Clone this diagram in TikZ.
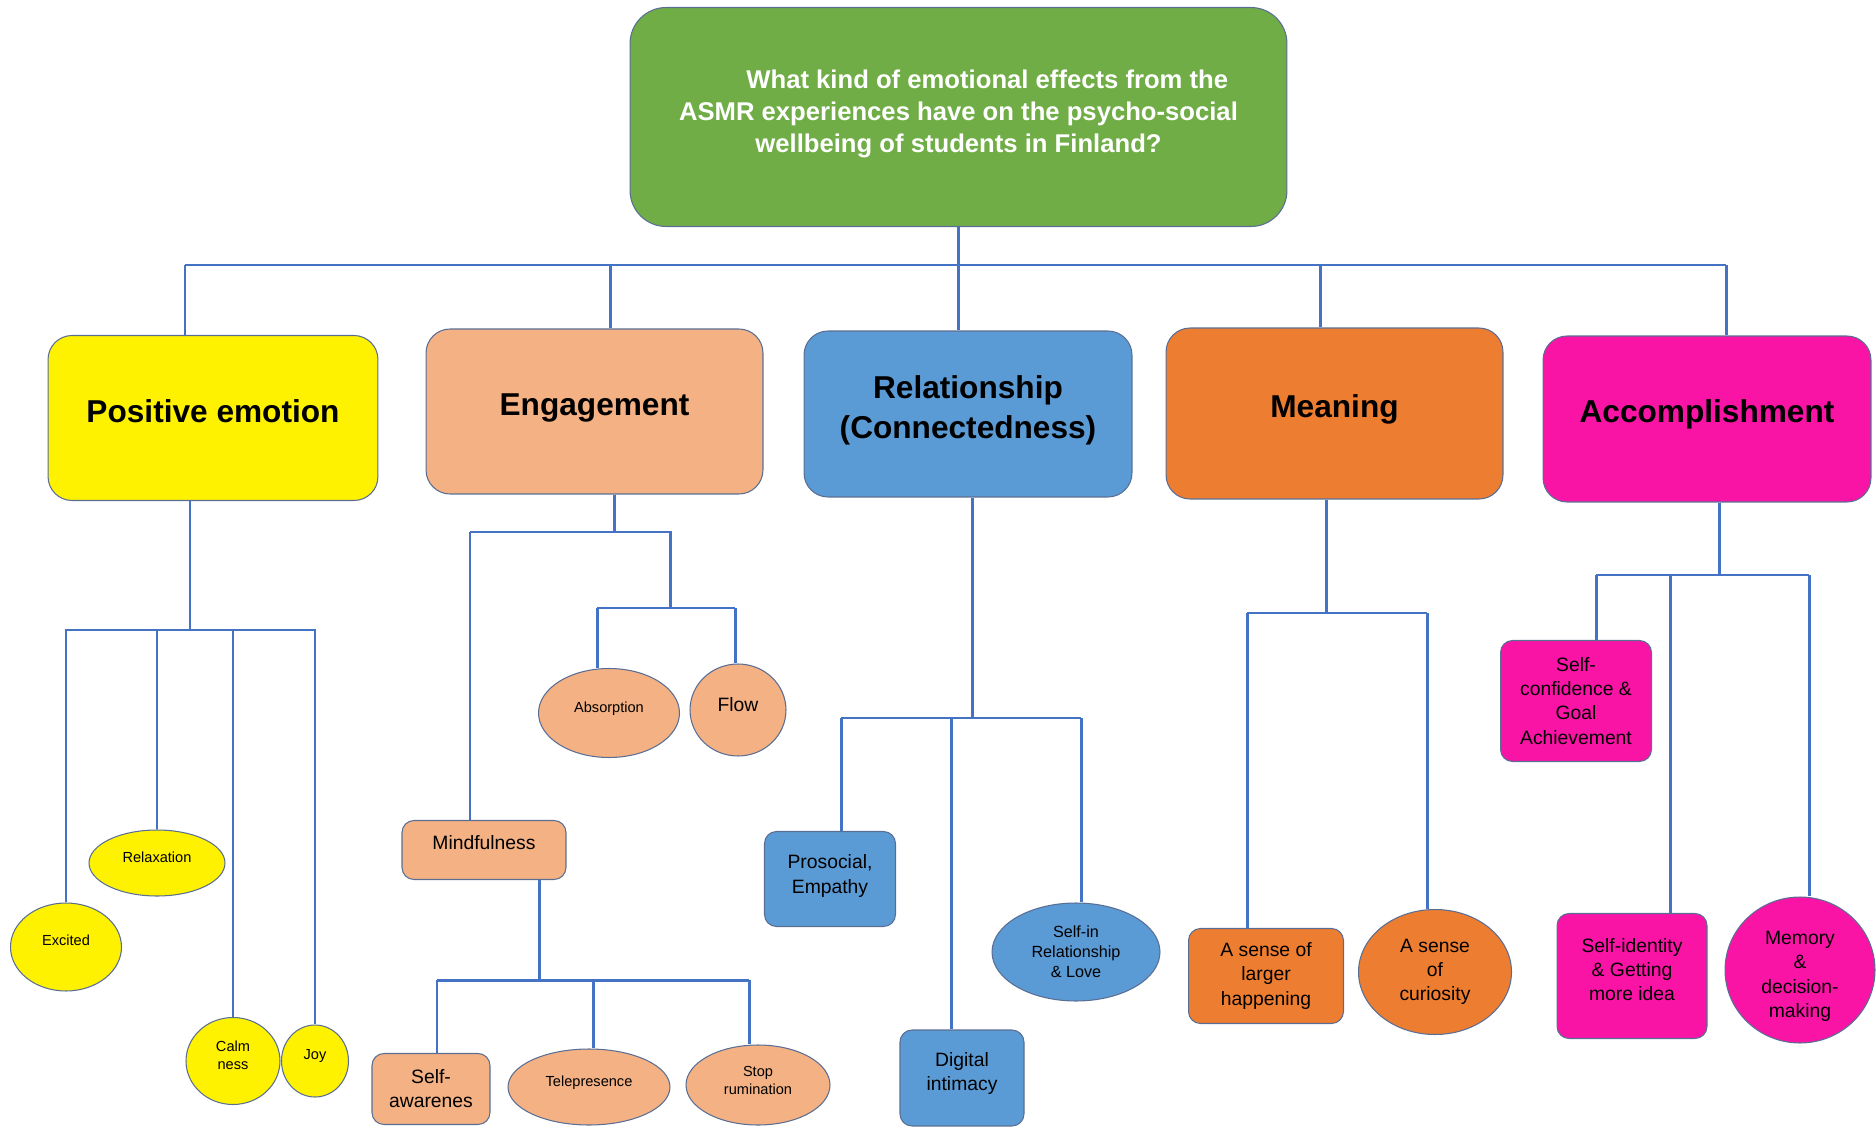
\documentclass[tikz,border=0pt]{standalone}
\usepackage{fontspec}
\setmainfont{Liberation Sans}
\usetikzlibrary{shapes.geometric}
\definecolor{leafgreen}{HTML}{70AD47}
\definecolor{peach}{HTML}{F4B183}
\definecolor{skyblue}{HTML}{5B9BD5}
\definecolor{deeporange}{HTML}{ED7D31}
\definecolor{hotpink}{HTML}{FA14A6}
\definecolor{linkblue}{HTML}{4472C4}
\definecolor{rimgray}{HTML}{5A6E94}
\newcommand\lowpad[1]{\rule[-#1]{0pt}{#1}}
\newcommand\highpad[1]{\rule{0pt}{#1}}
\begin{document}
\begin{tikzpicture}[x=0.02cm,y=-0.02cm,
    box/.style={draw=rimgray,line width=0.6pt,rounded corners=0.24cm,align=center,
      font=\fontsize{11}{13.7}\selectfont},
    oval/.style={draw=rimgray,line width=0.6pt,ellipse,inner sep=0pt,align=center,
      font=\fontsize{8.3}{10.4}\selectfont},
    head/.style={draw=rimgray,line width=0.6pt,rounded corners=0.48cm,align=center,
      minimum width=6.6cm,minimum height=3.3cm,
      font=\fontsize{18}{23}\selectfont\bfseries},
    link/.style={draw=linkblue,line width=1.7pt}]
  \useasboundingbox (0,0) rectangle (1876,1128);
  \node[draw=rimgray,line width=0.6pt,fill=leafgreen,rounded corners=0.72cm,
    minimum width=13.14cm,minimum height=4.38cm,align=center,text=white,
    font=\fontsize{14.6}{18.2}\selectfont\bfseries] (root) at (958.5,117)
    {\hspace*{1.15cm}What kind of emotional effects from the\\
     ASMR experiences have on the psycho-social\\
     wellbeing of students in Finland?\lowpad{0.25cm}};
  \node[head,fill=yellow] (pe) at (213,418) {Positive emotion\lowpad{0.28cm}};
  \node[head,fill=peach,minimum width=6.74cm] (eng) at (594.5,411.5) {Engagement\lowpad{0.28cm}};
  \node[head,fill=skyblue,minimum width=6.56cm,minimum height=3.32cm] (rel) at (968,414)
    {Relationship\\(Connectedness)\lowpad{0.28cm}};
  \node[head,fill=deeporange,minimum width=6.74cm,minimum height=3.42cm] (mea) at (1334.5,413.5)
    {Meaning\lowpad{0.28cm}};
  \node[head,fill=hotpink,minimum width=6.56cm,minimum height=3.32cm] (acc) at (1707,419)
    {Accomplishment\lowpad{0.33cm}};
  \node[oval,fill=yellow,minimum width=2.22cm,minimum height=1.76cm] (excited) at (66,947)
    {Excited\lowpad{0.29cm}};
  \node[oval,fill=yellow,minimum width=2.72cm,minimum height=1.32cm] (relax) at (157,863)
    {Relaxation\lowpad{0.24cm}};
  \node[oval,fill=yellow,minimum width=1.88cm,minimum height=1.74cm] (calm) at (233,1061)
    {Calm\\ness\lowpad{0.24cm}};
  \node[oval,fill=yellow,minimum width=1.34cm,minimum height=1.44cm] (joy) at (315,1061)
    {Joy\lowpad{0.25cm}};
  \node[oval,fill=peach,minimum width=2.82cm,minimum height=1.78cm] (absorp) at (609,713)
    {Absorption\lowpad{0.25cm}};
  \node[oval,fill=peach,minimum width=1.92cm,minimum height=1.84cm,
    font=\fontsize{11}{13.7}\selectfont] (flow) at (738,710) {Flow\lowpad{0.24cm}};
  \node[box,fill=peach,minimum width=3.28cm,minimum height=1.18cm] (mind) at (484,850)
    {Mindfulness\lowpad{0.29cm}};
  \node[box,fill=peach,minimum width=2.36cm,minimum height=1.42cm] (selfaw) at (431,1089) {Self-\\awarenes};
  \node[oval,fill=peach,minimum width=3.24cm,minimum height=1.52cm] (telep) at (589,1087)
    {Telepresence\lowpad{0.25cm}};
  \node[oval,fill=peach,minimum width=2.88cm,minimum height=1.6cm] (stoprum) at (758,1085)
    {Stop\\rumination\lowpad{0.19cm}};
  \node[box,fill=skyblue,minimum width=2.62cm,minimum height=1.9cm] (prosoc) at (830,879)
    {Prosocial,\\Empathy\lowpad{0.2cm}};
  \node[box,fill=skyblue,minimum width=2.48cm,minimum height=1.92cm] (digint) at (962,1078)
    {Digital\\intimacy\lowpad{0.25cm}};
  \node[oval,fill=skyblue,minimum width=3.36cm,minimum height=1.96cm,
    font=\fontsize{9.2}{11.5}\selectfont] (selfin) at (1076,952) {Self-in\\Relationship\\\& Love};
  \node[box,fill=deeporange,minimum width=3.1cm,minimum height=1.9cm] (larger) at (1266,976)
    {A sense of\\larger\\happening};
  \node[oval,fill=deeporange,minimum width=3.06cm,minimum height=2.5cm,
    font=\fontsize{11}{13.7}\selectfont] (curio) at (1435,972) {A sense\\of\\curiosity};
  \node[box,fill=hotpink,minimum width=3.02cm,minimum height=2.42cm] (selfconf) at (1576,701)
    {Self-\\confidence \&\\Goal\\Achievement};
  \node[box,fill=hotpink,minimum width=3.0cm,minimum height=2.5cm] (selfid) at (1632,976)
    {Self-identity\\\& Getting\\more idea\lowpad{0.26cm}};
  \node[oval,fill=hotpink,minimum width=3.0cm,minimum height=2.92cm,
    font=\fontsize{11}{13.7}\selectfont] (memory) at (1800,970)
    {\highpad{0.52cm}Memory\\\&\\decision-\\making};
  \coordinate (t1) at (185,265);
  \coordinate (t2) at (610,265);
  \coordinate (t4) at (1320,265);
  \coordinate (t5) at (1726,265);
  \coordinate (p0) at (190,630);
  \coordinate (e0) at (614,532);
  \coordinate (e1) at (470,532);
  \coordinate (e2) at (670,532);
  \coordinate (e3) at (670,608);
  \coordinate (e4) at (597,608);
  \coordinate (e5) at (735,608);
  \coordinate (m0) at (539,980);
  \coordinate (m1) at (437,980);
  \coordinate (m2) at (593,980);
  \coordinate (m3) at (749,980);
  \coordinate (r0) at (972,718);
  \coordinate (r1) at (841,718);
  \coordinate (r2) at (951,718);
  \coordinate (r3) at (1081,718);
  \coordinate (n0) at (1326,613);
  \coordinate (n1) at (1247,613);
  \coordinate (n2) at (1427,613);
  \coordinate (a0) at (1719,575);
  \coordinate (a1) at (1596,575);
  \coordinate (a2) at (1670,575);
  \coordinate (a3) at (1809,575);
  \begin{scope}[link]
    \draw (root.south) -- (root.south |- rel.north);
    \draw (t1) -- (t5);
    \draw (t1) -- (t1 |- pe.north);
    \draw (t2) -- (t2 |- eng.north);
    \draw (t4) -- (t4 |- mea.north);
    \draw (t5) -- (t5 |- acc.north);
    \draw (p0 |- pe.south) -- (p0);
    \draw (excited.north) |- (p0) -| (joy.north);
    \draw (relax.north) -- (relax.north |- p0);
    \draw (calm.north) -- (calm.north |- p0);
    \draw (e0 |- eng.south) -- (e0);
    \draw (e1) -- (e2) -- (e3);
    \draw (e1) -- (e1 |- mind.north);
    \draw (e4) -- (e5);
    \draw (e4) -- (e4 |- absorp.north);
    \draw (e5) -- (e5 |- flow.north);
    \draw (m0 |- mind.south) -- (m0);
    \draw (m1) -- (m3);
    \draw (m1) -- (m1 |- selfaw.north);
    \draw (m2) -- (m2 |- telep.north);
    \draw (m3) -- (m3 |- stoprum.north);
    \draw (r0 |- rel.south) -- (r0);
    \draw (r1) -- (r3);
    \draw (r1) -- (r1 |- prosoc.north);
    \draw (r2) -- (r2 |- digint.north);
    \draw (r3) -- (r3 |- selfin.north);
    \draw (n0 |- mea.south) -- (n0);
    \draw (n1) -- (n2);
    \draw (n1) -- (n1 |- larger.north);
    \draw (n2) -- (n2 |- curio.north);
    \draw (a0 |- acc.south) -- (a0);
    \draw (a1) -- (a3);
    \draw (a1) -- (a1 |- selfconf.north);
    \draw (a2) -- (a2 |- selfid.north);
    \draw (a3) -- (a3 |- memory.north);
  \end{scope}
\end{tikzpicture}
\end{document}
